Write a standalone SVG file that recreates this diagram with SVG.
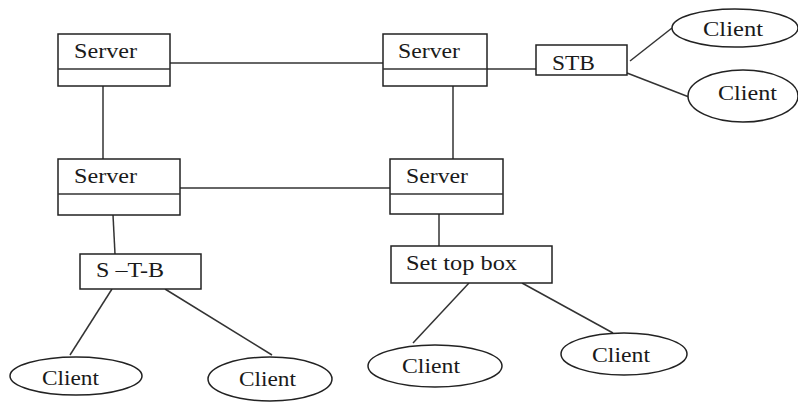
<svg xmlns="http://www.w3.org/2000/svg" width="798" height="403" viewBox="0 0 798 403">
<style>
.box{fill:#fff;stroke:#222;stroke-width:1.5}
.el{fill:#fff;stroke:#222;stroke-width:1.5}
.ln{stroke:#333;stroke-width:1.5;fill:none}
.t{font-family:'Liberation Serif','DejaVu Serif',serif;font-size:21px;fill:#1a1a1a}
</style>
<rect width="798" height="403" fill="#fff"/>
<g id="connectors">
<line class="ln" x1="170" y1="63" x2="383" y2="63"/>
<line class="ln" x1="103" y1="86" x2="103" y2="159"/>
<line class="ln" x1="487" y1="69" x2="536" y2="69"/>
<line class="ln" x1="630" y1="61" x2="672" y2="28"/>
<line class="ln" x1="627" y1="73" x2="689" y2="97"/>
<line class="ln" x1="453" y1="86" x2="453" y2="159"/>
<line class="ln" x1="180" y1="188" x2="390" y2="188"/>
<line class="ln" x1="113" y1="215" x2="115" y2="254"/>
<line class="ln" x1="439" y1="214" x2="439" y2="246"/>
<line class="ln" x1="112" y1="289" x2="70" y2="355"/>
<line class="ln" x1="165" y1="289" x2="272" y2="355"/>
<line class="ln" x1="469" y1="283" x2="413" y2="343"/>
<line class="ln" x1="522" y1="283" x2="613" y2="333"/>
</g>
<g id="server1">
<rect class="box" x="58" y="34" width="112" height="52"/>
<line class="ln" x1="58" y1="69" x2="170" y2="69"/>
<text class="t" x="74" y="58" textLength="63" lengthAdjust="spacingAndGlyphs">Server</text>
</g>
<g id="server2">
<rect class="box" x="383" y="34" width="104" height="52"/>
<line class="ln" x1="383" y1="69" x2="487" y2="69"/>
<text class="t" x="398" y="58" textLength="62" lengthAdjust="spacingAndGlyphs">Server</text>
</g>
<g id="stb">
<rect class="box" x="536" y="45" width="91" height="30"/>
<text class="t" x="552" y="70" textLength="43" lengthAdjust="spacingAndGlyphs">STB</text>
</g>
<g id="client-tr1">
<ellipse class="el" cx="735" cy="28" rx="63" ry="19"/>
<text class="t" x="703" y="36" textLength="60" lengthAdjust="spacingAndGlyphs">Client</text>
</g>
<g id="client-tr2">
<ellipse class="el" cx="743" cy="96" rx="55" ry="26"/>
<text class="t" x="718" y="100" textLength="59" lengthAdjust="spacingAndGlyphs">Client</text>
</g>
<g id="server3">
<rect class="box" x="58" y="159" width="122" height="56"/>
<line class="ln" x1="58" y1="194" x2="180" y2="194"/>
<text class="t" x="74" y="183" textLength="63" lengthAdjust="spacingAndGlyphs">Server</text>
</g>
<g id="server4">
<rect class="box" x="390" y="159" width="113" height="55"/>
<line class="ln" x1="390" y1="194" x2="503" y2="194"/>
<text class="t" x="406" y="183" textLength="62" lengthAdjust="spacingAndGlyphs">Server</text>
</g>
<g id="s-t-b">
<rect class="box" x="80" y="254" width="121" height="35"/>
<text class="t" x="96" y="277" textLength="68" lengthAdjust="spacingAndGlyphs">S –T-B</text>
</g>
<g id="set-top-box">
<rect class="box" x="391" y="246" width="161" height="37"/>
<text class="t" x="406" y="270" textLength="111" lengthAdjust="spacingAndGlyphs">Set top box</text>
</g>
<g id="client-bl1">
<ellipse class="el" cx="76" cy="376" rx="66" ry="19"/>
<text class="t" x="42" y="385" textLength="57" lengthAdjust="spacingAndGlyphs">Client</text>
</g>
<g id="client-bl2">
<ellipse class="el" cx="270" cy="379" rx="62" ry="22"/>
<text class="t" x="239" y="386" textLength="57" lengthAdjust="spacingAndGlyphs">Client</text>
</g>
<g id="client-bm1">
<ellipse class="el" cx="435" cy="366" rx="67" ry="21"/>
<text class="t" x="402" y="373" textLength="58" lengthAdjust="spacingAndGlyphs">Client</text>
</g>
<g id="client-bm2">
<ellipse class="el" cx="624" cy="354" rx="63" ry="21"/>
<text class="t" x="592" y="362" textLength="58" lengthAdjust="spacingAndGlyphs">Client</text>
</g>
</svg>
